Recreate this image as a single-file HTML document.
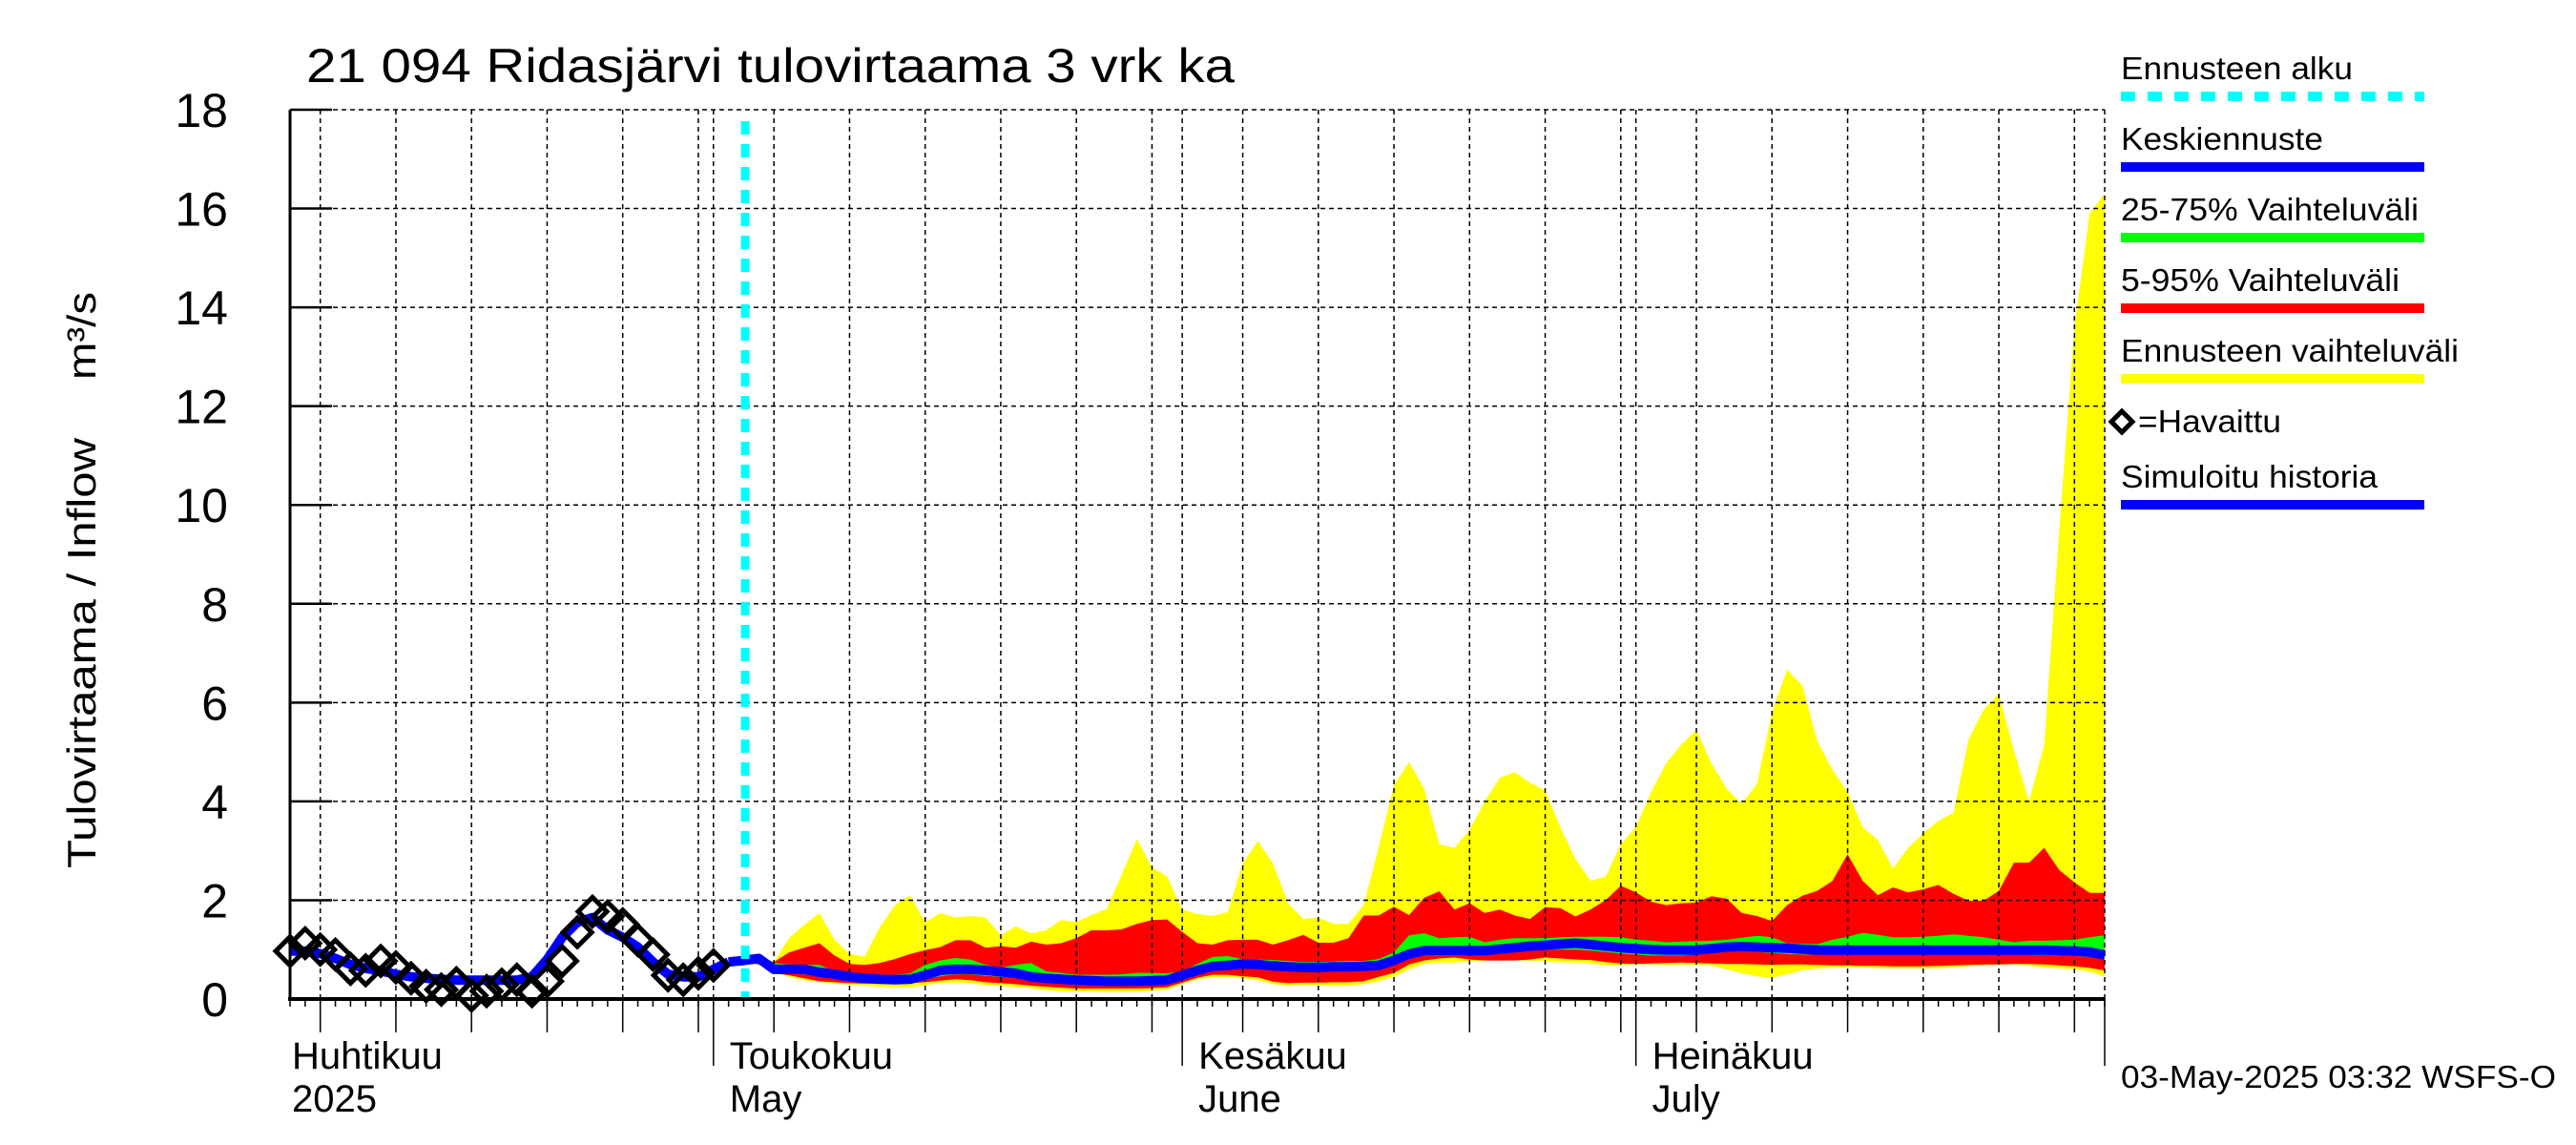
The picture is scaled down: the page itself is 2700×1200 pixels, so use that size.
<!DOCTYPE html>
<html><head><meta charset="utf-8"><title>Ridasjärvi tulovirtaama</title>
<style>
html,body{margin:0;padding:0;background:#fff;}
svg{display:block;font-family:"Liberation Sans",Arial,sans-serif;}
</style></head>
<body>
<svg id="chart" width="2700" height="1200" viewBox="0 0 2700 1200" xmlns="http://www.w3.org/2000/svg">
<rect x="0" y="0" width="2700" height="1200" fill="#fff"/>
<g id="bands"></g>
<g id="grid"></g>
<g id="series"></g>
<g id="axes"></g>
<text x="321" y="86" font-size="50" textLength="973" lengthAdjust="spacingAndGlyphs">21 094 Ridasjärvi tulovirtaama 3 vrk ka</text>
<text transform="translate(100,910) rotate(-90)" font-size="42" textLength="451" lengthAdjust="spacingAndGlyphs">Tulovirtaama / Inflow</text>
<text transform="translate(100,398) rotate(-90)" font-size="42" textLength="92" lengthAdjust="spacingAndGlyphs">m³/s</text>
<g id="legend">
  <text x="2223" y="83" font-size="33" textLength="243" lengthAdjust="spacingAndGlyphs">Ennusteen alku</text>
  <line x1="2223" y1="101" x2="2541" y2="101" stroke="#00ffff" stroke-width="10" stroke-dasharray="15 13"/>
  <text x="2223" y="157" font-size="33" textLength="212" lengthAdjust="spacingAndGlyphs">Keskiennuste</text>
  <line x1="2223" y1="175" x2="2541" y2="175" stroke="#0000ff" stroke-width="10"/>
  <text x="2223" y="231" font-size="33" textLength="312" lengthAdjust="spacingAndGlyphs">25-75% Vaihteluväli</text>
  <line x1="2223" y1="249" x2="2541" y2="249" stroke="#00ff00" stroke-width="10"/>
  <text x="2223" y="305" font-size="33" textLength="292" lengthAdjust="spacingAndGlyphs">5-95% Vaihteluväli</text>
  <line x1="2223" y1="323" x2="2541" y2="323" stroke="#ff0000" stroke-width="10"/>
  <text x="2223" y="379" font-size="33" textLength="354" lengthAdjust="spacingAndGlyphs">Ennusteen vaihteluväli</text>
  <line x1="2223" y1="397" x2="2541" y2="397" stroke="#ffff00" stroke-width="10"/>
  <path d="M2224 431 L2235 442 L2224 453 L2213 442 Z" fill="#fff" stroke="#000" stroke-width="5"/>
  <text x="2241" y="453" font-size="33" textLength="150" lengthAdjust="spacingAndGlyphs">=Havaittu</text>
  <text x="2223" y="511" font-size="33" textLength="269" lengthAdjust="spacingAndGlyphs">Simuloitu historia</text>
  <line x1="2223" y1="529" x2="2541" y2="529" stroke="#0000ff" stroke-width="10"/>
</g>
<text x="2223" y="1140" font-size="33" textLength="456" lengthAdjust="spacingAndGlyphs">03-May-2025 03:32 WSFS-O</text>
</svg>
<script>
// Day index = days since 1 April 2025 (0 = Apr 1)
const obsStart = 2;
const observed = [0.97,1.13,1.0,0.9,0.61,0.58,0.77,0.64,0.42,0.26,0.19,0.32,0.07,0.16,0.29,0.39,0.16,0.36,0.77,1.35,1.77,1.67,1.51,1.19,0.9,0.48,0.39,0.52,0.68];
const simStart = 2;
const simulated = [0.97,0.97,0.92,0.82,0.7,0.62,0.57,0.5,0.45,0.42,0.4,0.38,0.38,0.38,0.38,0.38,0.45,0.8,1.25,1.55,1.65,1.4,1.25,1.05,0.75,0.5,0.45,0.45,0.6,0.75];
const fcStart = 32;
const fcMax = [0.78,0.9,0.75,1.23,1.5,1.74,1.2,0.91,0.86,1.45, 1.9,2.1,1.55,1.74,1.65,1.68,1.65,1.29,1.47,1.33, 1.39,1.6,1.56,1.7,1.82,2.52,3.24,2.66,2.48,1.81, 1.72,1.68,1.76,2.74,3.2,2.74,1.94,1.62,1.65,1.52, 1.52,1.9,3.09,4.32,4.8,4.25,3.13,3.06,3.42,4.0, 4.48,4.59,4.38,4.22,3.48,2.84,2.39,2.48,3.13,3.48, 4.19,4.77,5.15,5.44,4.77,4.25,3.96,4.35,5.8,6.67, 6.35,5.22,4.64,4.19,3.48,3.22,2.64,3.06,3.35,3.61, 3.77,5.25,5.86,6.18,5.03,4.0,5.15,9.5,13.6,15.9, 16.3];
const fcP95 = [0.78,0.8,0.75,0.94,1.04,1.13,0.88,0.71,0.69,0.73, 0.81,0.91,0.99,1.05,1.19,1.19,1.04,1.07,1.04,1.16, 1.1,1.13,1.23,1.39,1.39,1.41,1.52,1.6,1.61,1.36, 1.13,1.1,1.19,1.2,1.2,1.1,1.19,1.3,1.14,1.14, 1.23,1.69,1.69,1.87,1.7,2.05,2.18,1.81,1.94,1.74, 1.81,1.69,1.62,1.86,1.84,1.67,1.81,2.0,2.29,2.16, 1.97,1.9,1.94,1.95,2.08,2.03,1.74,1.68,1.58,1.9, 2.09,2.19,2.39,2.93,2.39,2.1,2.26,2.16,2.22,2.31, 2.13,1.99,1.99,2.19,2.76,2.76,3.06,2.61,2.36,2.15, 2.15];
const fcP75 = [0.78,0.78,0.73,0.7,0.69,0.69,0.56,0.53,0.5,0.5, 0.49,0.52,0.69,0.78,0.83,0.8,0.69,0.64,0.69,0.73, 0.56,0.53,0.49,0.49,0.49,0.5,0.53,0.53,0.52,0.56, 0.71,0.85,0.87,0.81,0.8,0.79,0.77,0.75,0.75,0.76, 0.77,0.77,0.81,0.94,1.29,1.33,1.23,1.25,1.26,1.15, 1.2,1.23,1.23,1.23,1.25,1.26,1.26,1.26,1.25,1.2, 1.18,1.15,1.16,1.17,1.18,1.2,1.24,1.28,1.25,1.13, 1.12,1.11,1.2,1.26,1.34,1.3,1.25,1.25,1.26,1.28, 1.31,1.28,1.25,1.2,1.15,1.18,1.18,1.19,1.2,1.25, 1.29];
const fcMedian = [0.78,0.82,0.6,0.6,0.6,0.54,0.5,0.45,0.42,0.4, 0.39,0.4,0.48,0.58,0.6,0.6,0.58,0.55,0.52,0.45, 0.42,0.4,0.38,0.37,0.36,0.36,0.36,0.37,0.38,0.48, 0.58,0.66,0.68,0.71,0.7,0.67,0.65,0.64,0.64,0.65, 0.65,0.66,0.68,0.78,0.91,0.98,0.98,0.98,0.98,0.98, 1.01,1.04,1.07,1.09,1.11,1.13,1.1,1.07,1.04,1.02, 1.0,0.99,0.99,0.99,1.02,1.05,1.06,1.05,1.04,1.03, 1.01,0.99,0.99,0.99,0.99,0.99,0.99,0.99,0.99,0.99, 0.99,0.99,0.99,0.99,0.99,0.99,0.99,0.98,0.97,0.95, 0.89];
const fcP25 = [0.75,0.75,0.55,0.52,0.5,0.46,0.42,0.38,0.36,0.35, 0.34,0.34,0.4,0.46,0.5,0.5,0.47,0.45,0.43,0.38, 0.35,0.33,0.32,0.31,0.3,0.3,0.3,0.31,0.32,0.4, 0.5,0.58,0.6,0.62,0.62,0.6,0.58,0.57,0.57,0.57, 0.57,0.58,0.6,0.68,0.82,0.88,0.88,0.88,0.89,0.9, 0.92,0.95,0.98,1.0,1.0,1.0,0.98,0.95,0.92,0.9, 0.88,0.88,0.88,0.9,0.93,0.95,0.96,0.95,0.93,0.91, 0.9,0.9,0.9,0.91,0.92,0.9,0.9,0.9,0.9,0.9, 0.9,0.9,0.9,0.9,0.9,0.9,0.89,0.88,0.87,0.85, 0.8];
const fcP5 = [0.75,0.7,0.53,0.48,0.42,0.36,0.34,0.32,0.31,0.31, 0.31,0.32,0.34,0.37,0.4,0.38,0.34,0.32,0.3,0.27, 0.25,0.23,0.21,0.21,0.21,0.21,0.21,0.22,0.24,0.33, 0.43,0.49,0.49,0.46,0.44,0.35,0.32,0.33,0.33,0.34, 0.34,0.36,0.45,0.53,0.7,0.78,0.82,0.84,0.8,0.78, 0.78,0.78,0.8,0.84,0.82,0.8,0.79,0.75,0.72,0.71, 0.72,0.73,0.74,0.73,0.72,0.71,0.71,0.7,0.69,0.7, 0.7,0.69,0.68,0.68,0.67,0.67,0.66,0.66,0.66,0.67, 0.68,0.69,0.7,0.7,0.71,0.71,0.7,0.68,0.66,0.63, 0.58];
const fcMin = [0.75,0.68,0.53,0.45,0.38,0.34,0.31,0.29,0.27,0.25, 0.23,0.24,0.28,0.32,0.33,0.32,0.28,0.26,0.24,0.22, 0.18,0.16,0.15,0.15,0.14,0.14,0.15,0.17,0.19,0.3, 0.4,0.44,0.45,0.42,0.38,0.3,0.27,0.28,0.28,0.27, 0.27,0.3,0.36,0.45,0.6,0.71,0.74,0.74,0.76,0.78, 0.78,0.78,0.78,0.76,0.74,0.74,0.72,0.68,0.68,0.7, 0.7,0.69,0.7,0.69,0.68,0.6,0.52,0.46,0.43,0.5, 0.58,0.62,0.63,0.64,0.64,0.62,0.62,0.62,0.62,0.62, 0.64,0.66,0.68,0.69,0.7,0.67,0.64,0.62,0.6,0.55, 0.46];
const forecastStartDay = 32;
const yTicks = [0,2,4,6,8,10,12,14,16,18];
const monthNamesFi = ["Huhtikuu","Toukokuu","Kesäkuu","Heinäkuu"];
const monthNamesEn = ["2025","May","June","July"];
const monthLabelDays = [2,30,61,91];
const monthOffsets = [0,30,61,91];

const X0=304, X1=2206, D0=2, D1=122, Y0=1047, Y1=115, V1=18;
const xs = d => X0 + (d - D0) * (X1 - X0) / (D1 - D0);
const ys = v => Y0 - v * (Y0 - Y1) / V1;
const NS = "http://www.w3.org/2000/svg";
function mk(tag, attrs, parent){ const e=document.createElementNS(NS,tag); for(const k in attrs) e.setAttribute(k, attrs[k]); parent.appendChild(e); return e; }

const bands = document.getElementById('bands');
function band(up, lo, color, name){
  let pts=[];
  for(let i=0;i<up.length;i++) pts.push(xs(fcStart+i).toFixed(1)+','+ys(up[i]).toFixed(1));
  for(let i=lo.length-1;i>=0;i--) pts.push(xs(fcStart+i).toFixed(1)+','+ys(lo[i]).toFixed(1));
  const p = mk('polygon',{points:pts.join(' '),fill:color},bands);
  
  
}
band(fcMax, fcMin, '#ffff00', 'forecast-range-band');
band(fcP95, fcP5, '#ff0000', 'band-5-95');
band(fcP75, fcP25, '#00ff00', 'band-25-75');

const grid = document.getElementById('grid');
yTicks.forEach(v=>{
  if(v===0) return;
  const l = mk('line',{x1:X0,x2:X1,y1:ys(v),y2:ys(v),stroke:'#000','stroke-width':1.5,'stroke-dasharray':'5 4'},grid);
  
  
});
const gridDays=[];
for(let m=0;m<4;m++){
  if(m>0) gridDays.push({d:monthOffsets[m], month:true});
  for(let k=5;k<=30;k+=5){ const d=monthOffsets[m]+k-1; if(d>=D0 && d<=D1) gridDays.push({d:d, month:false}); }
}
gridDays.push({d:D1, month:true});
gridDays.forEach(g=>{
  const l = mk('line',{x1:xs(g.d),x2:xs(g.d),y1:Y1,y2:Y0,stroke:'#000','stroke-width':1.5,'stroke-dasharray':'5 4'},grid);
  
  
});

const series = document.getElementById('series');
let simPts = simulated.map((v,i)=>xs(simStart+i).toFixed(1)+','+ys(v).toFixed(1));
const simLine = mk('polyline',{points:simPts.join(' '),fill:'none',stroke:'#0000ff','stroke-width':10,'stroke-linejoin':'round'},series);


let medPts = [xs(simStart+simulated.length-1).toFixed(1)+','+ys(simulated[simulated.length-1]).toFixed(1)].concat(fcMedian.map((v,i)=>xs(fcStart+i).toFixed(1)+','+ys(v).toFixed(1)));
const medLine = mk('polyline',{points:medPts.join(' '),fill:'none',stroke:'#0000ff','stroke-width':10,'stroke-linejoin':'round'},series);


observed.forEach((v,i)=>{
  const cx=xs(obsStart+i), cy=ys(v);
  const p = mk('path',{d:`M${cx} ${cy-15} L${cx+15} ${cy} L${cx} ${cy+15} L${cx-15} ${cy} Z`,fill:'#fff','fill-opacity':'0',stroke:'#000','stroke-width':5},series);
  
  
});
const fsl = mk('line',{x1:xs(forecastStartDay+0.1),x2:xs(forecastStartDay+0.1),y1:Y1+12,y2:Y0,stroke:'#00ffff','stroke-width':9,'stroke-dasharray':'14 10'},series);



const axes = document.getElementById('axes');
const la = mk('line',{x1:X0,x2:X0,y1:Y1,y2:Y0+2,stroke:'#000','stroke-width':3},axes);


const ba = mk('line',{x1:X0-2,x2:X1,y1:Y0,y2:Y0,stroke:'#000','stroke-width':4},axes);


yTicks.forEach(v=>{
  const t = mk('line',{x1:X0,x2:X0+44,y1:ys(v),y2:ys(v),stroke:'#000','stroke-width':2.5},axes);
  
  
  const tx = mk('text',{x:239,y:ys(v)+18,'font-size':50,'text-anchor':'end'},axes);
  tx.textContent = v;
  
  
});
for(let d=D0; d<=D1; d++){
  const t = mk('line',{x1:xs(d),x2:xs(d),y1:Y0,y2:Y0+8,stroke:'#000','stroke-width':1.5},axes);
  
  
}
gridDays.forEach(g=>{
  const t = mk('line',{x1:xs(g.d),x2:xs(g.d),y1:Y0,y2:Y0+(g.month?70:35),stroke:'#000','stroke-width':1.5},axes);
  
  
});
monthLabelDays.forEach((d,i)=>{
  const x = (i===0? X0+2 : xs(d)+17);
  const a = mk('text',{x:x,y:1120,'font-size':40},axes);
  a.textContent = monthNamesFi[i];
  
  
  const b = mk('text',{x:x,y:1165,'font-size':40},axes);
  b.textContent = monthNamesEn[i];
  
  
});
</script>
</body></html>
